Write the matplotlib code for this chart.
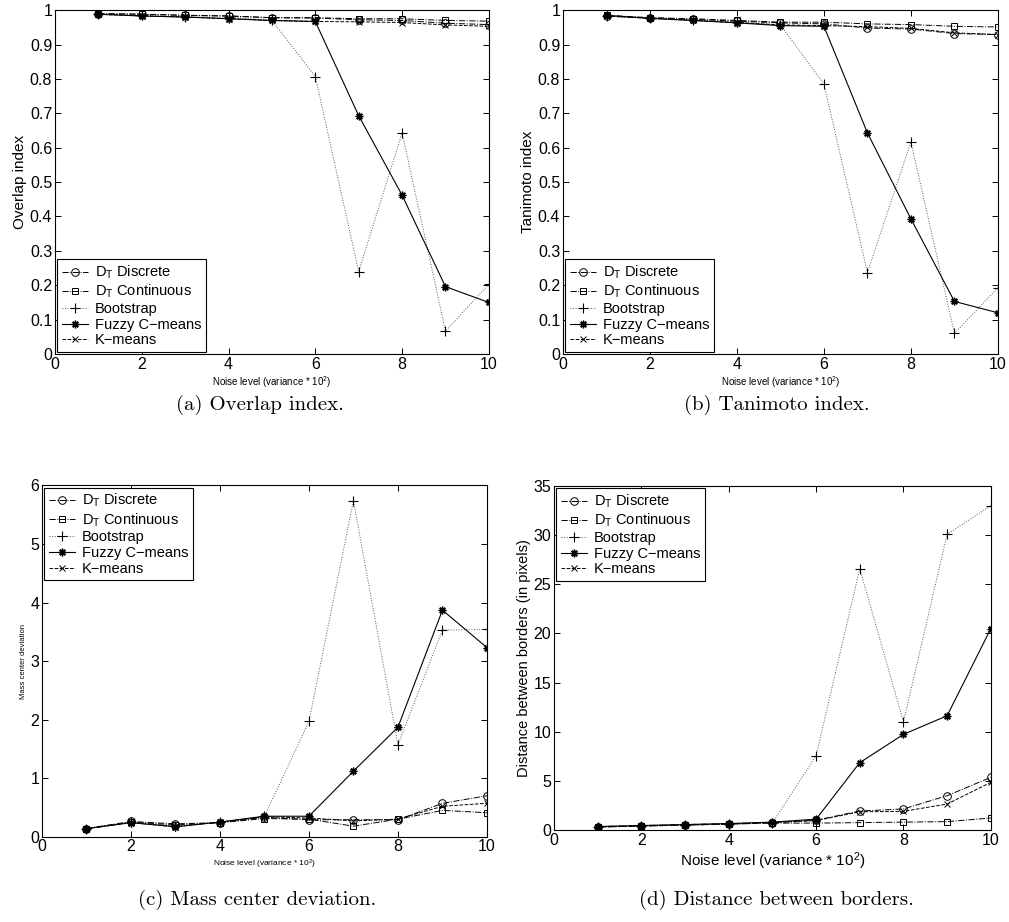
import numpy as np
import matplotlib
matplotlib.use("Agg")
import matplotlib.pyplot as plt
from matplotlib.ticker import FormatStrFormatter, MultipleLocator

plt.rcParams['font.family'] = ['Liberation Sans', 'DejaVu Sans']
plt.rcParams['mathtext.fontset'] = 'custom'
plt.rcParams['mathtext.rm'] = 'Liberation Sans'
plt.rcParams['mathtext.it'] = 'Liberation Sans:italic'

noise = [1, 2, 3, 4, 5, 6, 7, 8, 9, 10]
labels = [r'D$_\mathrm{T}$ Discrete', r'D$_\mathrm{T}$ Continuous', 'Bootstrap',
          'Fuzzy C\u2212means', 'K\u2212means']

# (a) overlap index
ov_disc = [0.990, 0.988, 0.985, 0.983, 0.978, 0.977, 0.972, 0.970, 0.962, 0.958]
ov_cont = [0.990, 0.988, 0.985, 0.983, 0.978, 0.978, 0.975, 0.975, 0.970, 0.968]
ov_boot = [0.990, 0.985, 0.980, 0.980, 0.970, 0.807, 0.240, 0.643, 0.067, 0.203]
ov_fcm = [0.988, 0.983, 0.980, 0.975, 0.970, 0.967, 0.693, 0.462, 0.196, 0.150]
ov_km = [0.988, 0.983, 0.980, 0.975, 0.970, 0.967, 0.966, 0.964, 0.957, 0.953]

# (b) tanimoto index
ta_disc = [0.982, 0.978, 0.973, 0.968, 0.963, 0.960, 0.948, 0.945, 0.932, 0.929]
ta_cont = [0.985, 0.978, 0.975, 0.970, 0.965, 0.965, 0.960, 0.958, 0.953, 0.951]
ta_boot = [0.983, 0.977, 0.970, 0.965, 0.957, 0.785, 0.237, 0.617, 0.060, 0.193]
ta_fcm = [0.985, 0.976, 0.970, 0.963, 0.955, 0.953, 0.643, 0.393, 0.153, 0.120]
ta_km = [0.983, 0.976, 0.970, 0.964, 0.957, 0.955, 0.952, 0.947, 0.934, 0.929]

# (c) mass center deviation
mc_disc = [0.14, 0.26, 0.22, 0.24, 0.33, 0.29, 0.29, 0.29, 0.57, 0.70]
mc_cont = [0.13, 0.25, 0.20, 0.24, 0.31, 0.30, 0.18, 0.30, 0.45, 0.41]
mc_boot = [0.13, 0.25, 0.18, 0.25, 0.35, 1.97, 5.74, 1.57, 3.53, 3.54]
mc_fcm = [0.14, 0.24, 0.17, 0.25, 0.35, 0.35, 1.12, 1.87, 3.87, 3.23]
mc_km = [0.14, 0.24, 0.17, 0.25, 0.34, 0.32, 0.27, 0.30, 0.52, 0.57]

# (d) distance between borders
db_disc = [0.35, 0.45, 0.55, 0.65, 0.75, 1.0, 1.93, 2.14, 3.49, 5.36]
db_cont = [0.30, 0.40, 0.50, 0.60, 0.70, 0.70, 0.75, 0.80, 0.85, 1.22]
db_boot = [0.30, 0.40, 0.50, 0.60, 0.70, 7.56, 26.6, 11.0, 30.1, 33.0]
db_fcm = [0.35, 0.45, 0.55, 0.65, 0.80, 1.10, 6.85, 9.73, 11.63, 20.5]
db_km = [0.30, 0.40, 0.50, 0.60, 0.75, 0.95, 1.85, 1.90, 2.64, 4.85]

styles = [
    dict(ls='-.', marker='o', ms=5.5, mfc='none', color='black', lw=0.7, mew=0.7),
    dict(ls='-.', marker='s', ms=5, mfc='none', color='black', lw=0.7, mew=0.7),
    dict(ls=':', marker='+', ms=6.5, color='0.35', mec='black', lw=0.7, mew=0.8),
    dict(ls='-', marker=(8, 2, 0), ms=5.5, color='black', lw=0.8, mew=1.0),
    dict(ls='--', marker='x', ms=4.5, color='black', lw=0.7, mew=0.7),
]

fig = plt.figure(figsize=(10.09, 9.22), dpi=100)

panels = [
    # rect, series, ylim, ystep, ylabel, ylabel size, xlabel size, legend loc, caption, caption pos
    ([0.0545, 0.616, 0.430, 0.373], [ov_disc, ov_cont, ov_boot, ov_fcm, ov_km],
     (0, 1), 0.1, 'Overlap index', 11, 7, 'lower left', '(a) Overlap index.', (0.258, 0.561)),
    ([0.558, 0.616, 0.431, 0.373], [ta_disc, ta_cont, ta_boot, ta_fcm, ta_km],
     (0, 1), 0.1, 'Tanimoto index', 11, 7, 'lower left', '(b) Tanimoto index.', (0.770, 0.561)),
    ([0.0416, 0.0925, 0.441, 0.381], [mc_disc, mc_cont, mc_boot, mc_fcm, mc_km],
     (0, 6), 1, 'Mass center deviation', 5.5, 6, 'upper left', '(c) Mass center deviation.', (0.255, 0.024)),
    ([0.549, 0.0998, 0.433, 0.373], [db_disc, db_cont, db_boot, db_fcm, db_km],
     (0, 35), 5, 'Distance between borders (in pixels)', 10.5, 11, 'upper left',
     '(d) Distance between borders.', (0.770, 0.024)),
]

for rect, series, ylim, ystep, ylab, ylsize, xlsize, loc, cap, cpos in panels:
    ax = fig.add_axes(rect)
    for vals, lab, st in zip(series, labels, styles):
        ax.plot(noise, vals, label=lab, **st)
    ax.set_xlim(0, 10)
    ax.set_ylim(*ylim)
    ax.xaxis.set_major_locator(MultipleLocator(2))
    ax.yaxis.set_major_locator(MultipleLocator(ystep))
    ax.yaxis.set_major_formatter(FormatStrFormatter('%g'))
    ax.tick_params(direction='in', top=True, right=True, length=4, width=0.7,
                   labelsize=11.5, pad=2)
    for sp in ax.spines.values():
        sp.set_linewidth(0.8)
    ax.set_ylabel(ylab, fontsize=ylsize, labelpad=2)
    ax.set_xlabel('Noise level (variance * 10$^2$)', fontsize=xlsize, labelpad=2)
    leg = ax.legend(loc=loc, fontsize=10.5, frameon=True, fancybox=False,
                    edgecolor='black', framealpha=1, borderpad=0.3,
                    labelspacing=0.12, handlelength=1.8, handletextpad=0.5,
                    borderaxespad=0.15)
    leg.get_frame().set_linewidth(0.8)
    fig.text(cpos[0], cpos[1], cap, family='cmr10', fontsize=15,
             ha='center', va='center')

fig.savefig('out.png', dpi=100)
